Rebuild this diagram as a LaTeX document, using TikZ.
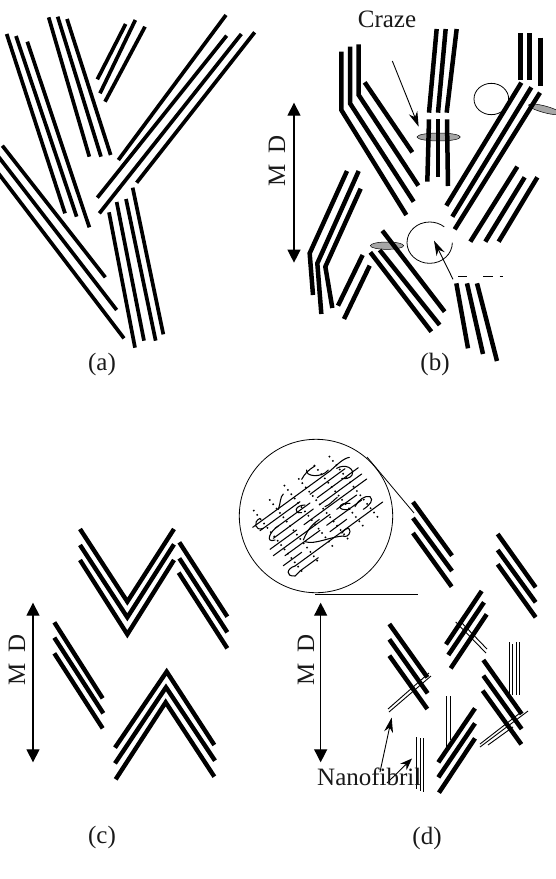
\documentclass[tikz,border=0pt]{standalone}
\usepackage{fontspec}
\setmainfont{Liberation Serif}
\usetikzlibrary{arrows.meta}
\tikzset{
  fine/.style={x=0.33333pt,y=-0.33333pt},
  lamA/.style={line width=3.7pt,black},
  lamB/.style={line width=4.5pt,black},
  lamC/.style={line width=4.4pt,black},
  lamD/.style={line width=4.5pt,black},
  fibril/.style={line width=0.9pt,black},
  outline/.style={line width=0.8pt,black},
  chain/.style={line width=1.05pt,black,line cap=round},
  foldpts/.style={line width=1.5pt,black,dash pattern=on 1.5pt off 4pt},
  craze/.style={draw=black,line width=0.5pt,fill=black!35},
  mdaxis/.style={line width=1.3pt,black,{Triangle[length=13pt,width=13pt]}-{Triangle[length=13pt,width=13pt]}},
  pointer/.style={line width=0.9pt,black,-{Stealth[length=15pt,width=9pt]}},
  caption/.style={font=\fontsize{25}{29}\selectfont,anchor=base,inner sep=0pt,text=black!90},
  axislabel/.style={font=\fontsize{25}{29}\selectfont,anchor=base,rotate=90,inner sep=0pt,text=black!90},
}
\begin{document}
\begin{tikzpicture}[x=1pt,y=-1pt]
\clip (0,0) rectangle (556,879);
\fill[white] (0,0) rectangle (556,879);

% ---- (a) undeformed stacks of lamellae
\begin{scope}[fine,lamA]
  \draw (20,102) -- (195,640);
  \draw (48,108) -- (230,650);
  \draw (82,125) -- (268,682);
  \draw (146,52) -- (268,470);
  \draw (173,50) -- (303,470);
  \draw (201,57) -- (332,465);
  \draw (377,72) -- (292,238);
  \draw (406,60) -- (300,280);
  \draw (435,80) -- (315,305);
  \draw (678,45) -- (355,480);
  \draw (680,107) -- (292,593);
  \draw (724,102) -- (298,640);
  \draw (764,97) -- (410,548);
  \draw (7,437) -- (316,832);
  \draw (-20,450) -- (350,930);
  \draw (-20,500) -- (372,1015);
  \draw (398,563) -- (490,1003);
  \draw (378,597) -- (467,1022);
  \draw (350,606) -- (432,1022);
  \draw (327,637) -- (405,1043);
\end{scope}
\node[caption] (capa) at (102,370) {(a)};

% ---- (b) crazes opening between the lamellae
\begin{scope}[fine,shift={(278pt,0pt)}]
  \draw[outline] (640,297) ellipse [x radius=52,y radius=47];
  \draw[craze] (482,411) ellipse [x radius=65,y radius=12];
  \draw[craze,rotate around={-15:(800,328)}] (800,328) ellipse [x radius=50,y radius=10];
  \draw[craze] (327,737) ellipse [x radius=50,y radius=11];
  \draw[outline] (523,728) arc [start angle=0,end angle=310,x radius=68,y radius=62];
  \begin{scope}[lamB]
    \draw (190,155) -- (190,330) -- (385,645);
    \draw (216,140) -- (216,310) -- (407,605);
    \draw (242,133) -- (242,285) -- (421,557);
    \draw (260,247) -- (403,457);
    \draw (476,87) -- (453,338);
    \draw (503,87) -- (480,338);
    \draw (536,87) -- (506,338);
    \draw (453,358) -- (448,545);
    \draw (480,358) -- (480,530);
    \draw (507,358) -- (510,558);
    \draw (727,100) -- (727,240);
    \draw (755,100) -- (755,240);
    \draw (788,113) -- (788,258);
    \draw (730,248) -- (505,617);
    \draw (760,262) -- (523,650);
    \draw (786,278) -- (530,688);
    \draw (718,500) -- (577,725);
    \draw (740,532) -- (622,725);
    \draw (778,532) -- (662,725);
    \draw (207,513) -- (95,760) -- (105,885);
    \draw (242,513) -- (118,790) -- (130,942);
    \draw (248,566) -- (142,800) -- (163,924);
    \draw (254,765) -- (180,917);
    \draw (275,797) -- (198,957);
    \draw (313,692) -- (500,935);
    \draw (305,750) -- (485,975);
    \draw (277,757) -- (460,995);
    \draw (535,850) -- (570,1045);
    \draw (567,850) -- (615,1062);
    \draw (597,850) -- (657,1083);
  \end{scope}
  \draw[line width=1.4pt] (540,830) -- (568,830) (615,830) -- (645,830) (665,830) -- (675,830);
  \draw[pointer] (343,183) -- (422,380);
  \draw[pointer] (525,838) -- (468,722);
  \draw[mdaxis] (48,308) -- (48,788);
\end{scope}
\node[caption] (craze) at (387,27) {Craze};
\node[axislabel] (mdb) at (285,161) {M\, D};
\node[caption] (capb) at (435,370) {(b)};

% ---- (c) isolated chevrons and stacks
\begin{scope}[fine,shift={(0pt,-500pt)},lamC]
  \draw (240,87) -- (382,305) -- (522,87);
  \draw (240,135) -- (382,352) -- (522,133);
  \draw (240,180) -- (382,403) -- (522,180);
  \draw (538,127) -- (682,350);
  \draw (538,175) -- (682,397);
  \draw (536,218) -- (682,445);
  \draw (163,367) -- (308,595);
  \draw (163,413) -- (310,640);
  \draw (163,460) -- (308,685);
  \draw (345,743) -- (500,515) -- (643,735);
  \draw (345,790) -- (498,562) -- (645,782);
  \draw (347,838) -- (497,607) -- (643,830);
  \draw[mdaxis] (99,308) -- (99,787);
\end{scope}
\node[axislabel] (mdc) at (25,660) {M\, D};
\node[caption] (capc) at (102,843) {(c)};

% ---- (d) magnified lamella: chain folds and separated stacks
\draw[outline] (316,516) circle [radius=76.7];
\draw[outline] (367,457) -- (414,513);
\draw[line width=1pt] (315,594) -- (418,594);
\begin{scope}[fine,shift={(230pt,-450pt)}]
  % fold-plane rows of dots
  \draw[foldpts] (70,180) -- (222,372);
  \draw[foldpts] (118,148) -- (268,340);
  \draw[foldpts] (162,105) -- (315,298);
  \draw[foldpts] (205,85) -- (358,272);
  \draw[foldpts] (252,45) -- (405,235);
  \draw[foldpts] (297,18) -- (450,210);
  % parallel stems running through the lamella
  \draw[chain] (68,232) -- (300,63) .. controls (320,45) and (340,25) .. (358,22);
  \draw[chain] (90,242) -- (210,155) (240,133) -- (345,56);
  \draw[chain] (135,235) -- (240,159) (262,143) -- (385,53);
  \draw[chain] (130,265) -- (250,177) (270,163) -- (395,72);
  \draw[chain] (120,298) -- (200,240) (222,224) -- (410,87);
  \draw[chain] (130,317) -- (300,193) (320,178) -- (380,135);
  \draw[chain] (165,317) -- (270,241) (290,226) -- (395,150);
  \draw[chain] (160,347) -- (215,307) (300,245) -- (350,208);
  \draw[chain] (195,348) -- (458,156);
  \draw[chain] (210,363) -- (265,323);
  % looser loops and chain folds
  \draw[chain] (90,205) .. controls (68,215) and (75,245) .. (100,235);
  \draw[chain] (145,228) .. controls (118,245) and (105,280) .. (135,270);
  \draw[chain] (195,348) .. controls (170,355) and (165,380) .. (195,378) -- (210,363);
  \draw[chain] (225,165) .. controls (195,165) and (188,192) .. (215,188);
  \draw[chain] (360,160) .. controls (325,155) and (315,185) .. (360,178);
  \draw[chain] (375,170) .. controls (385,150) and (405,135) .. (420,140) .. controls (432,150) and (420,165) .. (400,178);
  \draw[chain] (320,55) .. controls (345,40) and (375,55) .. (366,75) .. controls (360,85) and (345,88) .. (335,85);
  \draw[chain] (255,48) .. controls (235,60) and (225,70) .. (215,88);
  \draw[chain] (230,60) .. controls (225,80) and (275,85) .. (295,60);
  \draw[chain] (220,270) .. controls (235,235) and (245,225) .. (268,208);
  \draw[chain] (225,275) .. controls (255,285) and (300,260) .. (340,258);
  \draw[chain] (335,250) .. controls (345,235) and (360,228) .. (360,245) .. controls (358,258) and (345,262) .. (340,258);
  \draw[chain] (145,178) .. controls (152,160) and (150,140) .. (160,132);
  \draw[chain] (285,170) .. controls (300,165) and (310,150) .. (322,142);
\end{scope}
% drawn fibrils bridging the stacks
\begin{scope}[fibril]
  \draw (455.7,622) -- (486,653);
  \draw (460,621) -- (487,649);
  \draw (509,642) -- (509,695);
  \draw (512.7,644) -- (512.7,695);
  \draw (516,642) -- (516,695);
  \draw (519.3,642) -- (519.3,695);
  \draw (480,747) -- (528,711);
  \draw (480,744) -- (520,713);
  \draw (488,745) -- (513,727);
  \draw (446,696) -- (446,747);
  \draw (450.3,696) -- (450.3,740);
  \draw (388,709) -- (429,673);
  \draw (389,712) -- (431,676);
  \draw (416.7,737) -- (416.7,789);
  \draw (420.7,738) -- (420.7,791);
  \draw (423.7,738) -- (423.7,792);
\end{scope}
\begin{scope}[fine,shift={(280pt,-520pt)},lamD]
  \draw (399,-54) -- (516,107);
  \draw (399,-6) -- (516,153);
  \draw (399,39) -- (515,200);
  \draw (653,42) -- (767,202);
  \draw (653,90) -- (767,247);
  \draw (653,133) -- (767,292);
  \draw (605,213) -- (498,373);
  \draw (612,247) -- (505,405);
  \draw (620,283) -- (512,445);
  \draw (328,312) -- (442,472);
  \draw (328,358) -- (443,520);
  \draw (328,407) -- (442,567);
  \draw (610,420) -- (725,582);
  \draw (610,467) -- (725,627);
  \draw (608,512) -- (724,673);
  \draw (585,565) -- (475,727);
  \draw (585,610) -- (475,772);
  \draw (585,655) -- (477,818);
  \draw[mdaxis] (122,248) -- (122,727);
\end{scope}
\draw[pointer] (380,772) -- (391.7,717.5);
\draw[pointer,-{Stealth[length=12pt,width=9pt]}] (387,783) -- (412,758.5);
\node[axislabel] (mdd) at (314,660) {M\, D};
\node[caption,anchor=base west] (nano) at (317,785) {Nanofibril};
\node[caption] (capd) at (427,844) {(d)};
\end{tikzpicture}
\end{document}
